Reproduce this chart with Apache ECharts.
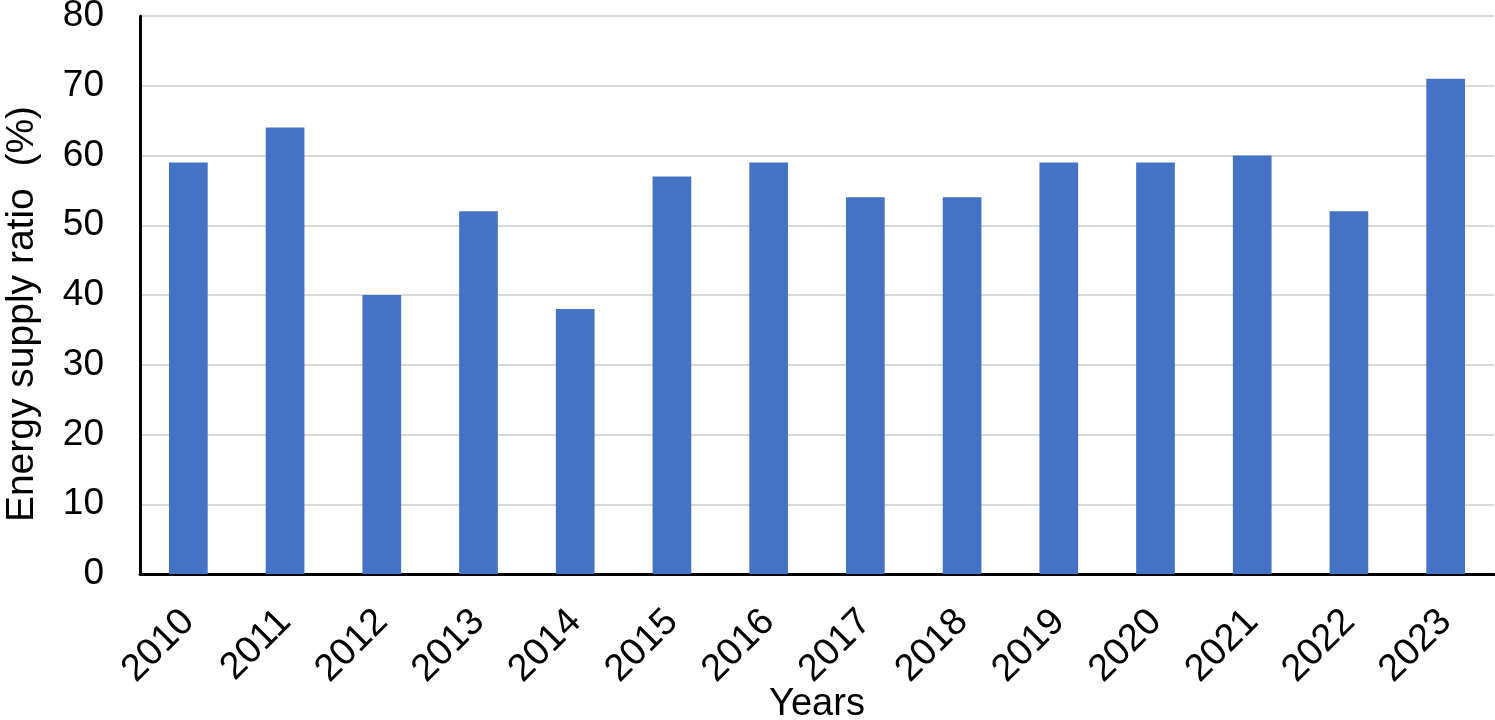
<!DOCTYPE html>
<html><head><meta charset="utf-8">
<script src="https://cdn.jsdelivr.net/npm/echarts@6/dist/echarts.min.js"></script>
<style>html,body{margin:0;padding:0;background:#fff}#c{width:1495px;height:720px}</style>
</head><body><div id="c"></div>
<script>
const years = ['2010','2011','2012','2013','2014','2015','2016','2017','2018','2019','2020','2021','2022','2023'];
const ratios = [59, 64, 40, 52, 38, 57, 59, 54, 54, 59, 59, 60, 52, 71];
const chart = echarts.init(document.getElementById('c'));
const font = 'Liberation Sans, Arial, sans-serif';
chart.setOption({
  animation: false,
  grid: {left: 140, right: 1, top: 16, bottom: 146, containLabel: false, outerBoundsMode: 'none'},
  xAxis: {
    type: 'category', data: years,
    name: 'Years', nameLocation: 'middle', nameGap: 112, nameMoveOverlap: false,
    nameTextStyle: {fontFamily: font, fontSize: 38, color: '#000'},
    axisLine: {lineStyle: {color: '#000', width: 3}},
    axisTick: {show: false},
    axisLabel: {rotate: 45, fontFamily: font, fontSize: 38, color: '#000', margin: 42, interval: 0}
  },
  yAxis: {
    type: 'value', min: 0, max: 80, interval: 10,
    name: 'Energy supply ratio  (%)', nameLocation: 'middle', nameGap: 98, nameMoveOverlap: false,
    nameTextStyle: {fontFamily: font, fontSize: 39, color: '#000', padding: [0, 38, 0, 0]},
    axisLine: {show: true, lineStyle: {color: '#000', width: 3}},
    axisTick: {show: false},
    axisLabel: {fontFamily: font, fontSize: 37, color: '#000', margin: 36},
    splitLine: {lineStyle: {color: '#d9d9d9', width: 2}}
  },
  series: [{type: 'bar', data: ratios, barWidth: '40%', itemStyle: {color: '#4472C4'}}]
});
</script></body></html>
